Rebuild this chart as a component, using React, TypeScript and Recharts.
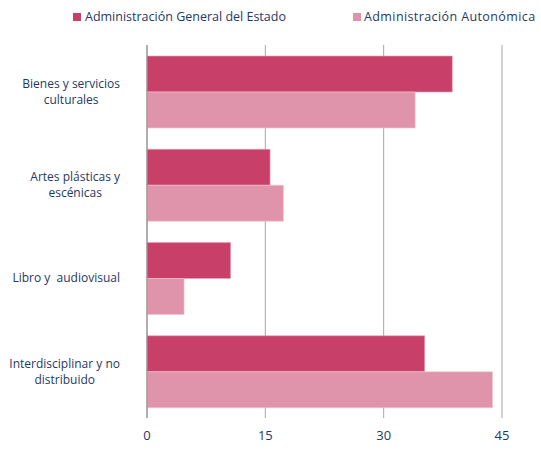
import React from 'react';
import { BarChart, Bar, XAxis, YAxis, CartesianGrid } from 'recharts';

const categories = [
    'Bienes y servicios|culturales',
    'Artes plásticas y|escénicas',
    'Libro y  audiovisual',
    'Interdisciplinar y no|distribuido',
];
const estado = [38.7, 15.6, 10.6, 35.2];
const autonomica = [34.0, 17.3, 4.7, 43.8];
const xTicks = [0, 15, 30, 45];

const data = categories.map((name, i) => ({ name, estado: estado[i], autonomica: autonomica[i] }));

const TEXT = '#1F3864';
const DARK = '#C8406A';
const LIGHT = '#E094AB';
const FONT = '"Open Sans", "Noto Sans", sans-serif';
const LABEL_SIZE = 12;

let ctx: CanvasRenderingContext2D | null = null;
const textWidth = (s: string) => {
    if (!ctx) ctx = document.createElement('canvas').getContext('2d');
    if (!ctx) return s.length * 6;
    ctx.font = `${LABEL_SIZE}px ${FONT}`;
    return ctx.measureText(s).width;
};

// labels: block right-aligned at x=120, lines centred within the block
const CategoryTick = (props: any) => {
    const { y, payload } = props;
    const lines = String(payload.value).split('|');
    const maxW = Math.max(...lines.map(textWidth));
    const cx = 120 - maxW / 2;
    const start = -((lines.length - 1) * 16) / 2;
    return (
        <text x={cx} y={y} textAnchor="middle" fill={TEXT} fontSize={LABEL_SIZE} fontFamily={FONT}>
            {lines.map((l, i) => (
                <tspan key={i} x={cx} y={y + start + i * 16} dy="0.35em" style={{ whiteSpace: 'pre' }}>
                    {l}
                </tspan>
            ))}
        </text>
    );
};

const LegendBox = () => (
    <div style={{ position: 'absolute', left: 0, top: 0, width: 541, height: 30, fontFamily: FONT, fontSize: 12.5, color: TEXT }}>
        <div style={{ position: 'absolute', left: 73, top: 8, display: 'flex', alignItems: 'center' }}>
            <span style={{ width: 8, height: 8, background: DARK, display: 'inline-block', marginRight: 4 }} />
            Administración General del Estado
        </div>
        <div style={{ position: 'absolute', left: 353, top: 8, display: 'flex', alignItems: 'center', letterSpacing: 0.4 }}>
            <span style={{ width: 8, height: 8, background: LIGHT, display: 'inline-block', marginRight: 3 }} />
            Administración Autonómica
        </div>
    </div>
);

export default function App() {
    return (
        <div style={{ position: 'absolute', left: 0, top: 0, width: 541, height: 450, background: '#fff' }}>
            <BarChart
                width={541}
                height={450}
                data={data}
                layout="vertical"
                margin={{ top: 45, right: 39, bottom: 0, left: 0 }}
                barCategoryGap="11.8%"
                barGap={0}
            >
                <CartesianGrid horizontal={false} stroke="#A6A6A6" />
                <XAxis
                    type="number"
                    domain={[0, 45]}
                    ticks={xTicks}
                    axisLine={false}
                    tickLine={false}
                    tickSize={0}
                    tickMargin={13}
                    height={32}
                    tick={{ fill: TEXT, fontSize: 13, fontFamily: FONT }}
                    interval={0}
                />
                <YAxis
                    type="category"
                    dataKey="name"
                    width={147}
                    axisLine={{ stroke: '#8C8C8C' }}
                    tickLine={false}
                    tick={<CategoryTick />}
                    interval={0}
                />
                <Bar dataKey="estado" fill={DARK} stroke="#E8A3B8" strokeWidth={0.6} isAnimationActive={false} />
                <Bar dataKey="autonomica" fill={LIGHT} stroke="#F2C6D3" strokeWidth={0.6} isAnimationActive={false} />
            </BarChart>
            <LegendBox />
        </div>
    );
}
